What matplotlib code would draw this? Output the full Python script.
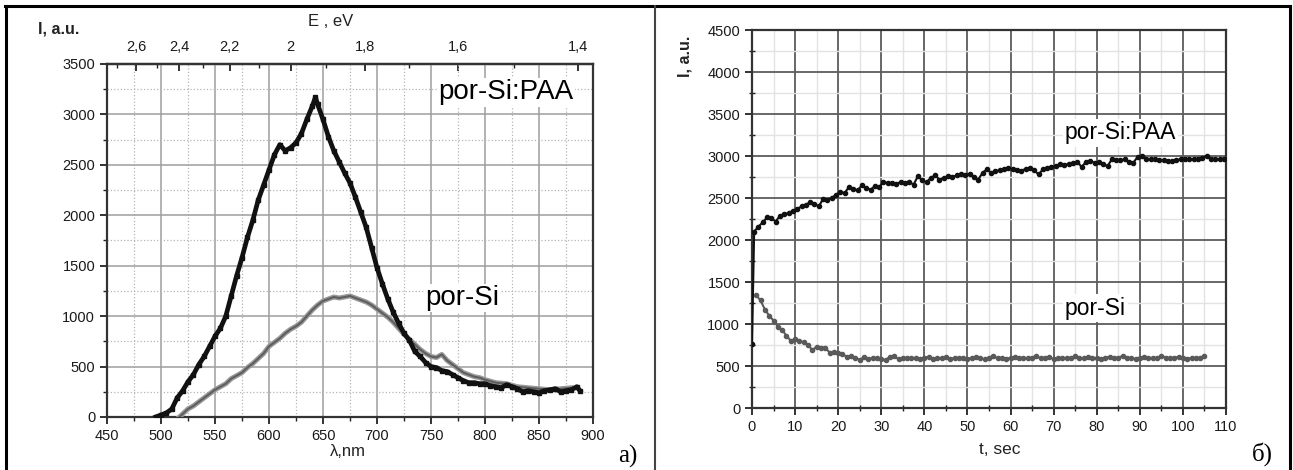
#!/usr/bin/env python3
"""Photoluminescence of por-Si and por-Si:PAA: spectra (a) and intensity vs time (b)."""

import matplotlib

matplotlib.use("Agg")
import matplotlib.pyplot as plt
import numpy as np
from matplotlib.lines import Line2D
from matplotlib.ticker import FixedLocator, FuncFormatter, MultipleLocator

plt.rcParams["font.family"] = ["Liberation Sans", "DejaVu Sans"]

FIG_W, FIG_H = 1293, 470

# ---- panel a): PL spectra ----
wl_paa = [495, 500, 505, 510, 515, 520, 525, 530, 535, 540, 545, 550, 555, 560, 565,
          570, 575, 580, 585, 590, 595, 600, 605, 610, 615, 620, 625, 630, 635, 640,
          643, 645, 650, 655, 660, 665, 670, 675, 680, 685, 690, 695, 700, 705, 710,
          715, 720, 725, 730, 735, 740, 745, 750, 755, 760, 765, 770, 775, 780, 785,
          790, 795, 800, 805, 810, 815, 820, 825, 830, 835, 840, 845, 850, 855, 860,
          865, 870, 875, 880, 885, 888]
int_paa = [0, 20, 40, 80, 190, 260, 350, 420, 520, 600, 700, 800, 880, 1000, 1200,
           1400, 1580, 1780, 1950, 2150, 2300, 2450, 2600, 2700, 2640, 2670, 2720, 2810, 2950, 3080,
           3170, 3100, 2950, 2780, 2640, 2530, 2420, 2320, 2180, 2030, 1880, 1680, 1480, 1320, 1170,
           1040, 930, 830, 760, 650, 600, 540, 500, 490, 460, 450, 420, 390, 360, 340,
           340, 330, 330, 310, 300, 290, 320, 300, 280, 250, 260, 250, 240, 260, 270,
           280, 250, 260, 270, 300, 260]

wl_si = [517, 520, 525, 530, 535, 540, 545, 550, 555, 560, 565, 570, 575, 580, 585,
         590, 595, 600, 605, 610, 615, 620, 625, 630, 635, 640, 645, 650, 655, 660,
         665, 670, 675, 680, 685, 690, 695, 700, 705, 710, 715, 720, 725, 730, 735,
         740, 745, 750, 755, 760, 765, 770, 775, 780, 785, 790, 795, 800, 810, 820,
         830, 840, 850, 860, 870, 880]
int_si = [0, 30, 80, 110, 150, 190, 230, 270, 300, 330, 380, 410, 440, 490, 530,
          580, 630, 700, 740, 780, 830, 870, 900, 940, 1000, 1060, 1110, 1150, 1170, 1190,
          1180, 1190, 1200, 1180, 1160, 1140, 1110, 1070, 1030, 990, 940, 880, 820, 770, 720,
          670, 630, 600, 590, 620, 560, 520, 480, 440, 420, 400, 390, 370, 340, 330,
          300, 290, 280, 270, 280, 290]

energy_ticks = [2.6, 2.4, 2.2, 2.0, 1.8, 1.6, 1.4]
energy_minor = [2.7, 2.5, 2.3, 2.1, 1.9, 1.7, 1.5]

# ---- panel б): PL intensity vs time ----
t_paa_start = [0.0]
i_paa_start = [760]
i_paa = [2100, 2160, 2210, 2270, 2260, 2220, 2290, 2310, 2320, 2350,
         2370, 2400, 2420, 2450, 2430, 2400, 2490, 2480, 2500, 2540,
         2570, 2560, 2630, 2610, 2590, 2650, 2620, 2600, 2640, 2630,
         2690, 2680, 2680, 2670, 2690, 2680, 2690, 2660, 2760, 2710,
         2690, 2740, 2770, 2720, 2740, 2760, 2750, 2770, 2780, 2770,
         2790, 2750, 2720, 2800, 2840, 2800, 2820, 2830, 2840, 2860,
         2840, 2830, 2820, 2850, 2860, 2830, 2780, 2840, 2860, 2870,
         2880, 2900, 2890, 2910, 2920, 2930, 2870, 2930, 2940, 2920,
         2930, 2900, 2880, 2960, 2950, 2950, 2960, 2930, 2920, 2990,
         3000, 2970, 2960, 2960, 2950, 2950, 2940, 2940, 2950, 2960,
         2970, 2960, 2960, 2970, 2980, 3000, 2960, 2970, 2960, 2970]
i_si = [1340, 1280, 1170, 1100, 1040, 970, 930, 860, 800, 820,
        800, 780, 750, 690, 730, 720, 720, 660, 670, 650,
        640, 610, 620, 600, 570, 610, 580, 600, 590, 580,
        570, 610, 620, 580, 600, 590, 590, 600, 580, 600,
        610, 580, 600, 590, 610, 580, 600, 590, 600, 580,
        600, 610, 590, 580, 600, 620, 590, 600, 580, 600,
        610, 590, 600, 590, 600, 620, 590, 600, 610, 580,
        600, 590, 600, 590, 620, 600, 590, 610, 600, 590,
        580, 600, 610, 590, 600, 620, 590, 600, 580, 600,
        610, 590, 600, 590, 620, 600, 590, 600, 610, 590,
        580, 600, 590, 600, 620]


def px_box(x0, y0, x1, y1):
    """Pixel box (top-left origin) -> figure [left, bottom, width, height]."""
    return [x0 / FIG_W, 1 - y1 / FIG_H, (x1 - x0) / FIG_W, (y1 - y0) / FIG_H]


def px(x, y):
    return x / FIG_W, 1 - y / FIG_H


def comma(v, _pos=None):
    s = f"{v:.1f}".rstrip("0").rstrip(".")
    return s.replace(".", ",")


def draw_spectra(fig):
    ax = fig.add_axes(px_box(107, 64, 593, 417))
    ax.plot(wl_si, int_si, color="#9a9a9a", lw=3.6, solid_joinstyle="round", zorder=3)
    ax.plot(wl_si, int_si, color="#5e5e5e", lw=1.5, zorder=3)
    ax.plot(wl_paa, int_paa, color="#111111", lw=3.4, marker="s", ms=2.6, zorder=4)

    ax.set_xlim(450, 900)
    ax.set_ylim(0, 3500)
    ax.xaxis.set_major_locator(MultipleLocator(50))
    ax.xaxis.set_minor_locator(MultipleLocator(25))
    ax.yaxis.set_major_locator(MultipleLocator(500))
    ax.yaxis.set_minor_locator(MultipleLocator(250))
    ax.grid(True, which="major", color="#9e9e9e", lw=1.1)
    ax.grid(True, which="minor", color="#b5b5b5", lw=0.9, ls=":")
    ax.set_axisbelow(True)
    ax.tick_params(which="major", direction="out", length=5, width=1.3, labelsize=10.5,
                   color="#222222", labelcolor="#1a1a1a")
    ax.tick_params(which="minor", direction="out", length=3, width=1.0, color="#222222")
    for sp in ax.spines.values():
        sp.set_linewidth(1.6)
        sp.set_color("#333333")

    e2w = lambda x: 1240.0 / np.clip(x, 1e-6, None)
    top = ax.secondary_xaxis("top", functions=(e2w, e2w))
    top.xaxis.set_major_locator(FixedLocator(energy_ticks))
    top.xaxis.set_minor_locator(FixedLocator(energy_minor))
    top.xaxis.set_major_formatter(FuncFormatter(comma))
    top.tick_params(which="major", direction="in", length=5, width=1.3, labelsize=10.5,
                    color="#222222", labelcolor="#1a1a1a", pad=7)
    top.tick_params(which="minor", direction="in", length=3, width=1.0, color="#222222")
    top.spines["top"].set_linewidth(1.6)

    box = dict(facecolor="white", edgecolor="none", pad=1.0)
    ax.text(757, 3221, "por-Si:PAA", fontsize=20, ha="left", va="center", bbox=box, zorder=5)
    ax.text(745, 1180, "por-Si", fontsize=20, ha="left", va="center", bbox=box, zorder=5)

    fig.text(*px(59, 29), "I, a.u.", fontsize=11.5, fontweight="bold", color="#222222",
             ha="center", va="center")
    fig.text(*px(331, 22), "E , eV", fontsize=12, color="#222222", ha="center", va="center")
    fig.text(*px(348, 452), "λ,nm", fontsize=12, color="#222222", ha="center", va="center")
    fig.text(*px(628, 456), "a)", fontsize=18, family=["Liberation Serif", "DejaVu Serif"],
             ha="center", va="center")


def draw_kinetics(fig):
    ax = fig.add_axes(px_box(752, 30, 1226, 408))
    t_paa = t_paa_start + list(np.arange(len(i_paa)) + 0.5)
    t_si = list(np.arange(len(i_si)) + 1.0)
    ax.plot(t_si, i_si, color="#5a5a5a", lw=1.5, marker="o", ms=3.0, zorder=3)
    ax.plot(t_paa, i_paa_start + i_paa, color="#111111", lw=1.5, marker="o", ms=3.0, zorder=4)

    ax.set_xlim(0, 110)
    ax.set_ylim(0, 4500)
    ax.xaxis.set_major_locator(MultipleLocator(10))
    ax.xaxis.set_minor_locator(MultipleLocator(5))
    ax.yaxis.set_major_locator(MultipleLocator(500))
    ax.yaxis.set_minor_locator(MultipleLocator(250))
    ax.grid(True, which="major", color="#5c5c5c", lw=1.3)
    ax.grid(True, which="minor", color="#e2e2e2", lw=1.0)
    ax.set_axisbelow(True)
    ax.tick_params(which="major", direction="out", length=5, width=1.3, labelsize=10.5,
                   color="#222222", labelcolor="#1a1a1a")
    ax.tick_params(which="minor", direction="inout", length=5, width=1.0, color="#222222")
    for sp in ax.spines.values():
        sp.set_linewidth(1.6)
        sp.set_color("#333333")

    box = dict(facecolor="white", edgecolor="none", pad=1.5)
    ax.text(72.6, 3274, "por-Si:PAA", fontsize=16.5, ha="left", va="center", bbox=box, zorder=5)
    ax.text(72.6, 1190, "por-Si", fontsize=16.5, ha="left", va="center", bbox=box, zorder=5)

    fig.text(*px(685, 56), "I, a.u.", fontsize=11.5, fontweight="bold", color="#222222",
             rotation=90, ha="center", va="center")
    fig.text(*px(1000, 450), "t, sec", fontsize=12.5, color="#222222", ha="center", va="center")
    fig.text(*px(1262, 454), "б)", fontsize=18, family=["Liberation Serif", "DejaVu Serif"],
             ha="center", va="center")


def draw_frame(fig):
    kw = dict(transform=fig.transFigure, color="black", lw=2.2)
    for (x0, y0), (x1, y1) in [((5, 6), (1290, 6)), ((6, 6), (6, 470)),
                               ((1290, 6), (1290, 470))]:
        fig.add_artist(Line2D([x0 / FIG_W, x1 / FIG_W], [1 - y0 / FIG_H, 1 - y1 / FIG_H], **kw))
    fig.add_artist(Line2D([655 / FIG_W] * 2, [1 - 6 / FIG_H, 0], transform=fig.transFigure,
                          color="#444444", lw=1.5))


def main() -> None:
    fig = plt.figure(figsize=(FIG_W / 100, FIG_H / 100), dpi=100)
    fig.patch.set_facecolor("white")
    draw_spectra(fig)
    draw_kinetics(fig)
    draw_frame(fig)
    fig.savefig("out.png", dpi=100)
    plt.close(fig)


if __name__ == "__main__":
    main()
